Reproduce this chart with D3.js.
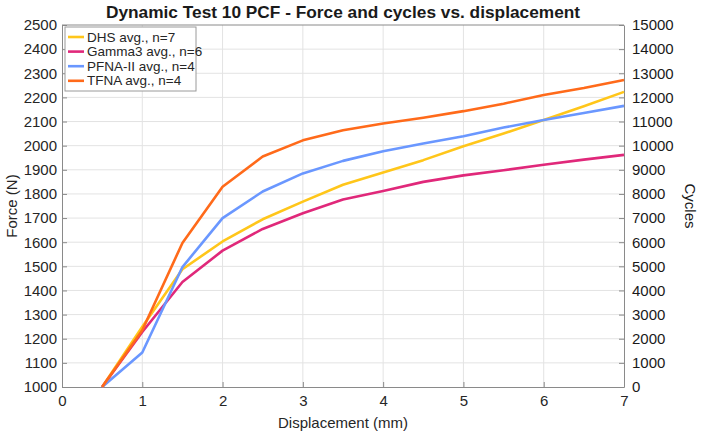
<!DOCTYPE html>
<html>
<head>
<meta charset="utf-8">
<script src="https://cdn.jsdelivr.net/npm/d3@7"></script>
<style>
  body { margin: 0; background: #fff; }
  text { font-family: "Liberation Sans", Arial, sans-serif; }
</style>
</head>
<body>
<div id="chart"></div>
<script>
// displacement points (mm)
const displacement = [0.5, 1, 1.5, 2, 2.5, 3, 3.5, 4, 4.5, 5, 5.5, 6, 6.5, 7];

// average force (N) per implant
const dhs   = [1000, 1250, 1488, 1603, 1695, 1768, 1838, 1889, 1940, 1998, 2050, 2106, 2163, 2223];
const gamma = [1000, 1228, 1435, 1565, 1655, 1720, 1777, 1812, 1850, 1877, 1898, 1921, 1942, 1962];
const pfna  = [1000, 1143, 1497, 1700, 1810, 1885, 1937, 1977, 2009, 2039, 2075, 2106, 2135, 2165];
const tfna  = [1000, 1235, 1597, 1830, 1955, 2022, 2064, 2092, 2116, 2143, 2174, 2210, 2239, 2272];

const seriesNames = ["DHS avg., n=7", "Gamma3 avg., n=6", "PFNA-II avg., n=4", "TFNA avg., n=4"];
const seriesColors = ["#ffc61a", "#e0287a", "#6a97ff", "#ff6a1a"];

const xTicks = [0, 1, 2, 3, 4, 5, 6, 7];
const forceTicks = d3.range(1000, 2501, 100);
const cycleTicks = d3.range(0, 15001, 1000);

const W = 702, H = 436;
const margin = {top: 25, right: 78, bottom: 49, left: 62};
const width = W - margin.left - margin.right,
      height = H - margin.top - margin.bottom;

const svg = d3.select("#chart").append("svg")
    .attr("width", W)
    .attr("height", H);

const g = svg.append("g")
    .attr("transform", `translate(${margin.left},${margin.top})`);

const x = d3.scaleLinear().domain([0, 7]).range([0, width]);
const y = d3.scaleLinear().domain([1000, 2500]).range([height, 0]);
const y2 = d3.scaleLinear().domain([0, 15000]).range([height, 0]);

// grid
g.append("g").selectAll("line").data(xTicks.slice(1, -1)).join("line")
    .attr("x1", d => x(d)).attr("x2", d => x(d))
    .attr("y1", 0).attr("y2", height)
    .attr("stroke", "#e3e3e3").attr("stroke-width", 1);
g.append("g").selectAll("line").data(forceTicks.slice(1, -1)).join("line")
    .attr("x1", 0).attr("x2", width)
    .attr("y1", d => y(d)).attr("y2", d => y(d))
    .attr("stroke", "#e3e3e3").attr("stroke-width", 1);

// axes
const axisColor = "#8a8a8a";
const fmt = d3.format("d");
const xAxis = g.append("g")
    .attr("transform", `translate(0,${height})`)
    .call(d3.axisBottom(x).tickValues(xTicks).tickFormat(fmt).tickSizeInner(-5).tickSizeOuter(0).tickPadding(8));
const yAxis = g.append("g")
    .call(d3.axisLeft(y).tickValues(forceTicks).tickFormat(fmt).tickSizeInner(-5).tickSizeOuter(0).tickPadding(5));
const y2Axis = g.append("g")
    .attr("transform", `translate(${width},0)`)
    .call(d3.axisRight(y2).tickValues(cycleTicks).tickFormat(fmt).tickSizeInner(-5).tickSizeOuter(0).tickPadding(8));

[xAxis, yAxis, y2Axis].forEach(a => {
  a.select(".domain").attr("stroke", axisColor);
  a.selectAll(".tick line").attr("stroke", axisColor);
  a.selectAll(".tick text")
    .attr("font-size", 15)
    .attr("fill", "#262626")
    .style("font-family", "'Liberation Sans', Arial, sans-serif");
});
y2Axis.selectAll(".tick text").attr("fill", "#1a1a1a");

// top border
g.append("line").attr("x1", 0).attr("x2", width).attr("y1", 0).attr("y2", 0)
    .attr("stroke", axisColor);

// lines
const allSeries = [dhs, gamma, pfna, tfna];
const line = d3.line()
    .x((d, i) => x(displacement[i]))
    .y(d => y(d));

g.selectAll(".series").data(allSeries).join("path")
    .attr("class", "series")
    .attr("d", d => line(d))
    .attr("fill", "none")
    .attr("stroke", (d, i) => seriesColors[i])
    .attr("stroke-width", 2.6)
    .attr("stroke-linejoin", "round");

// legend
const legend = g.append("g").attr("transform", "translate(3,2)");
legend.append("rect")
    .attr("width", 131).attr("height", 64)
    .attr("fill", "#fff").attr("stroke", "#9a9a9a");
seriesNames.forEach((name, i) => {
  const row = legend.append("g").attr("transform", `translate(0,${10 + i * 14.6})`);
  row.append("line").attr("x1", 3).attr("x2", 19).attr("y1", 0).attr("y2", 0)
      .attr("stroke", seriesColors[i]).attr("stroke-width", 2.6);
  row.append("text").attr("x", 22).attr("y", 4.5)
      .attr("font-size", 13.5).attr("fill", "#262626").text(name);
});

// titles
svg.append("text")
    .attr("x", margin.left + width / 2).attr("y", 18)
    .attr("text-anchor", "middle")
    .attr("font-size", 17.3).attr("font-weight", "bold").attr("fill", "#1a1a1a")
    .text("Dynamic Test 10 PCF - Force and cycles vs. displacement");

svg.append("text")
    .attr("x", margin.left + width / 2).attr("y", 428)
    .attr("text-anchor", "middle")
    .attr("font-size", 15).attr("fill", "#262626")
    .text("Displacement (mm)");

svg.append("text")
    .attr("transform", `translate(17,${margin.top + height / 2}) rotate(-90)`)
    .attr("text-anchor", "middle")
    .attr("font-size", 15).attr("fill", "#262626")
    .text("Force (N)");

svg.append("text")
    .attr("transform", `translate(685,${margin.top + height / 2}) rotate(90)`)
    .attr("text-anchor", "middle")
    .attr("font-size", 15).attr("fill", "#1a1a1a")
    .text("Cycles");
</script>
</body>
</html>
